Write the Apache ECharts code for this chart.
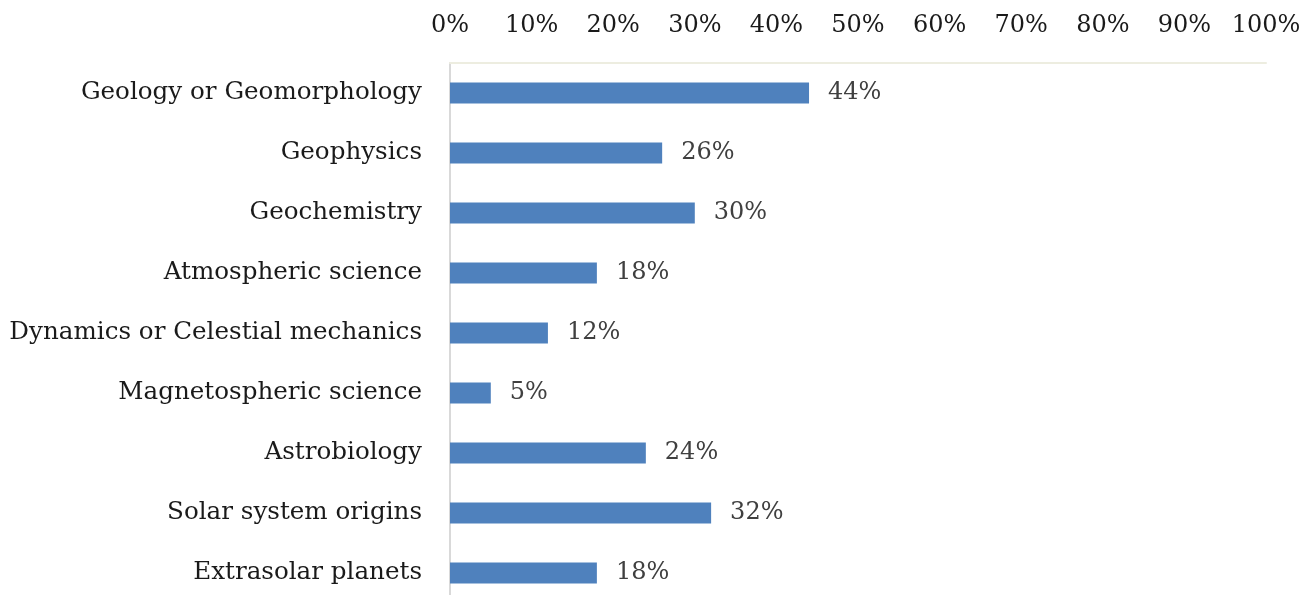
<!DOCTYPE html>
<html>
<head>
<meta charset="utf-8">
<script src="https://cdn.jsdelivr.net/npm/echarts@6/dist/echarts.min.js"></script>
<style>
  html, body { margin: 0; padding: 0; background: #ffffff; overflow: hidden; }
  #chart { width: 1308px; height: 610px; }
</style>
</head>
<body>
<div id="chart"></div>
<script>
// Research areas (top to bottom) and share of respondents
const categories = [
  'Geology or Geomorphology',
  'Geophysics',
  'Geochemistry',
  'Atmospheric science',
  'Dynamics or Celestial mechanics',
  'Magnetospheric science',
  'Astrobiology',
  'Solar system origins',
  'Extrasolar planets'
];
const shares = [44, 26, 30, 18, 12, 5, 24, 32, 18];
const axisTicks = [0, 10, 20, 30, 40, 50, 60, 70, 80, 90, 100];

const FONT = '"DejaVu Serif", serif';

const chart = echarts.init(document.getElementById('chart'), null, { renderer: 'canvas' });
chart.setOption({
  animation: false,
  backgroundColor: '#ffffff',
  grid: { left: 450, top: 63, right: 42, height: 540, containLabel: false },
  xAxis: {
    type: 'value',
    position: 'top',
    min: axisTicks[0],
    max: axisTicks[axisTicks.length - 1],
    interval: axisTicks[1] - axisTicks[0],
    axisLine: { show: true, lineStyle: { color: '#EDEDE0', width: 2 } },
    axisTick: { show: false },
    splitLine: { show: false },
    axisLabel: {
      margin: 25,
      formatter: v => v + '%',
      fontFamily: FONT,
      fontSize: 24,
      color: '#1a1a1a'
    }
  },
  yAxis: {
    type: 'category',
    data: categories,
    inverse: true,
    axisLine: { show: true, lineStyle: { color: '#D9D9D9', width: 2 } },
    axisTick: { show: false },
    axisLabel: {
      margin: 28,
      fontFamily: FONT,
      fontSize: 24.6,
      color: '#1a1a1a'
    }
  },
  series: [{
    type: 'bar',
    data: shares,
    barWidth: 21,
    itemStyle: { color: '#4F81BD' },
    label: {
      show: true,
      position: 'right',
      distance: 19,
      formatter: p => p.value + '%',
      fontFamily: FONT,
      fontSize: 24,
      color: '#404040'
    }
  }]
});
</script>
</body>
</html>
